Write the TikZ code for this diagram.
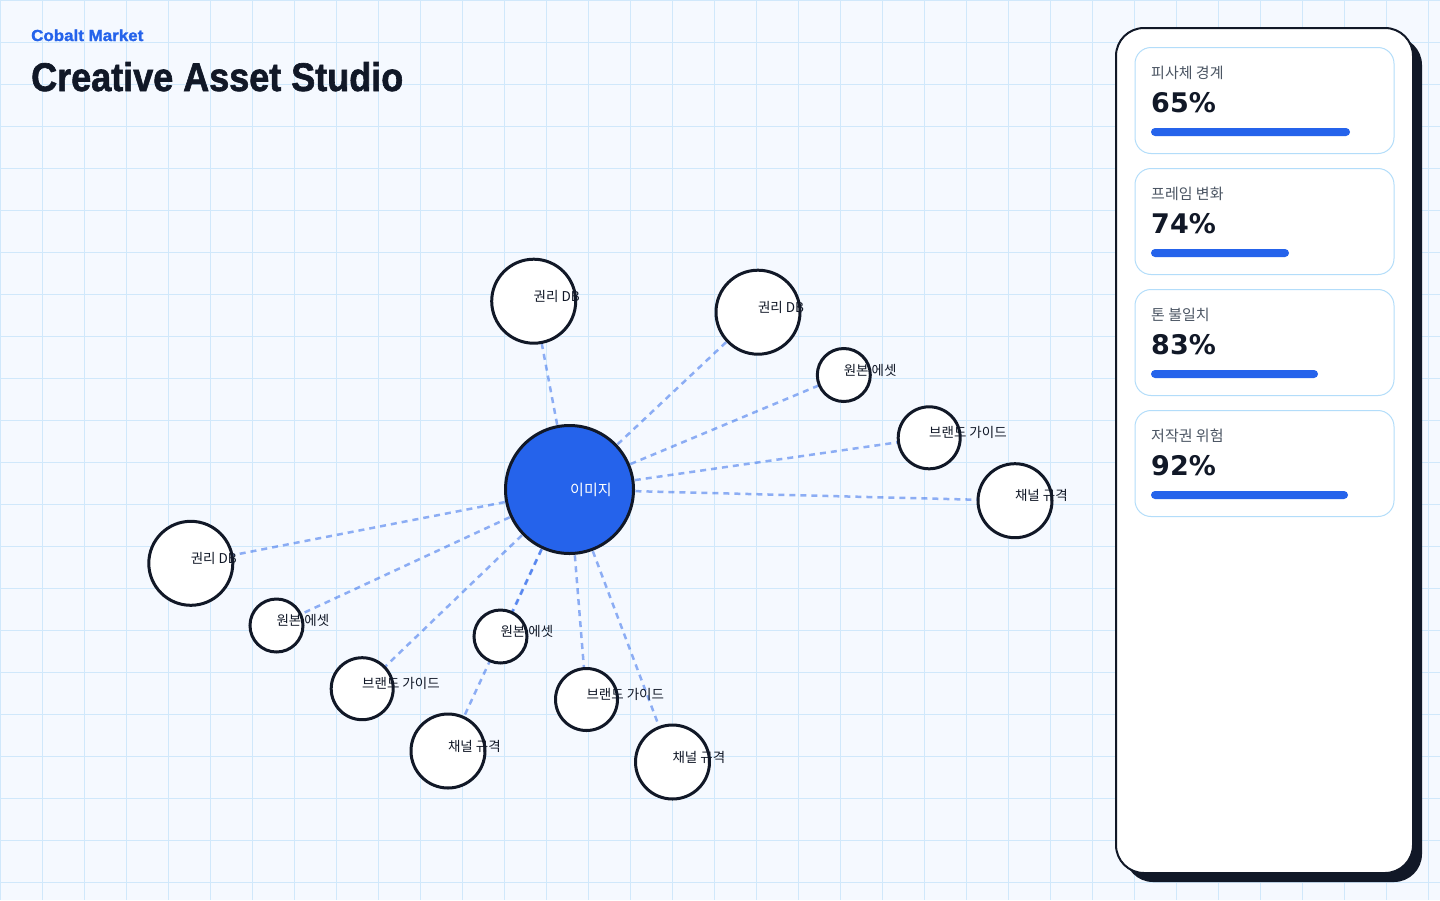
\documentclass[tikz,border=0pt]{standalone}
\usepackage{fontspec}
\usepackage{graphicx}
\setmainfont{Noto Sans CJK KR}
\newfontfamily\titlefont{Liberation Sans}[BoldFeatures={FakeBold=1.6}]
\newfontfamily\numfont{DejaVu Sans}
\definecolor{ink}{HTML}{111827}
\definecolor{brand}{HTML}{2563EB}
\definecolor{bgc}{HTML}{F5F9FF}
\definecolor{gridc}{HTML}{D0E8FB}
\definecolor{cardline}{HTML}{B3DDFA}
\definecolor{muted}{HTML}{4B5563}
\pgfdeclarelayer{bg}
\pgfdeclarelayer{edges}
\pgfsetlayers{bg,edges,main}
\tikzset{
  bub/.style={circle, draw=ink, line width=3, fill=white, inner sep=0pt, outer sep=0pt},
  hub/.style={circle, draw=ink, line width=3, fill=brand, inner sep=0pt, outer sep=0pt},
  lbl/.style={inner sep=0pt, outer sep=0pt, text=ink, font=\fontsize{13.5}{15}\selectfont, anchor=base west},
  link/.style={draw=brand, draw opacity=0.5, line width=2.5, dash pattern=on 6pt off 5pt},
  card/.style={draw=cardline, line width=1, fill=white, rounded corners=16, minimum width=259, minimum height=106, anchor=north west, inner sep=0pt},
  cardlbl/.style={inner sep=0pt, anchor=base west, text=muted, font=\fontsize{15}{18}\selectfont},
  cardnum/.style={inner sep=0pt, anchor=base west, text=ink, font=\numfont\bfseries\fontsize{27}{32}\selectfont},
  bar/.style={fill=brand, rounded corners=4},
}
\newcommand\bubble[5]{%
  \node[bub, minimum size=#4] (#1) at (#2,#3) {};
  \node[lbl] (#1t) at (#2,#3) {#5};
}
\begin{document}
\begin{tikzpicture}[x=1pt,y=-1pt]
\useasboundingbox (0,0) rectangle (1440,900);
\begin{pgfonlayer}{bg}
  \fill[bgc] (0,0) rectangle (1440,900);
  \foreach \i in {0,...,34} \draw[gridc, line width=1] (\i*42,0) -- (\i*42,900);
  \foreach \j in {0,...,21} \draw[gridc, line width=1] (0,\j*42) -- (1440,\j*42);
\end{pgfonlayer}

% titles
\node[inner sep=0pt, anchor=base west, text=brand, font=\titlefont\bfseries\fontsize{16}{19}\selectfont] (brandname) at (31,41) {\scalebox{1.06}[1]{Cobalt Market}};
\node[inner sep=0pt, anchor=base west, text=ink, font=\titlefont\bfseries\fontsize{40}{46}\selectfont] (title) at (31,91) {\scalebox{0.9}[1]{Creative Asset Studio}};

% hub
\node[hub, minimum size=128] (c0) at (569.5,489.5) {};
\node[inner sep=0pt, anchor=base west, text=white, font=\fontsize{15}{18}\selectfont] (c0t) at (570,495.5) {이미지};

% satellites
\bubble{n1}{533.7}{301.2}{84}{권리 DB}
\bubble{n2}{758}{312.2}{84}{권리 DB}
\bubble{n3}{843.8}{375}{53}{원본 에셋}
\bubble{n4}{929.2}{437.8}{62}{브랜드 가이드}
\bubble{n5}{1015}{500.7}{74}{채널 규격}
\bubble{n6}{190.8}{563.3}{84}{권리 DB}
\bubble{n7}{276.5}{625.5}{53}{원본 에셋}
\bubble{n8}{362.2}{688.7}{62}{브랜드 가이드}
\bubble{n9}{500.5}{636.5}{53}{원본 에셋}
\bubble{n10}{448}{751}{74}{채널 규격}
\bubble{n11}{586.5}{699.5}{62}{브랜드 가이드}
\bubble{n12}{672.5}{762}{74}{채널 규격}

\begin{pgfonlayer}{edges}
  \foreach \n in {n1,n2,n3,n4,n5,n6,n7,n8,n9,n10,n11,n12}
    \draw[link] (c0.center) -- (\n.center);
\end{pgfonlayer}

% side panel
\fill[ink, rounded corners=28] (1125,37) rectangle (1422,882);
\node[draw=ink, line width=2, fill=white, rounded corners=28, minimum width=297, minimum height=845, anchor=north west, inner sep=0pt] (panel) at (1115,27) {};

\node[card] (k1) at (1134.5,47) {};
\node[cardlbl] (k1l) at (1151,78) {피사체 경계};
\node[cardnum] (k1n) at (1151,112) {65\%};
\fill[bar] (1151,128) rectangle (1350,136);

\node[card] (k2) at (1134.5,168) {};
\node[cardlbl] (k2l) at (1151,199) {프레임 변화};
\node[cardnum] (k2n) at (1151,233) {74\%};
\fill[bar] (1151,249) rectangle (1289,257);

\node[card] (k3) at (1134.5,289) {};
\node[cardlbl] (k3l) at (1151,320) {톤 불일치};
\node[cardnum] (k3n) at (1151,354) {83\%};
\fill[bar] (1151,370) rectangle (1318,378);

\node[card] (k4) at (1134.5,410) {};
\node[cardlbl] (k4l) at (1151,441) {저작권 위험};
\node[cardnum] (k4n) at (1151,475) {92\%};
\fill[bar] (1151,491) rectangle (1348,499);
\end{tikzpicture}
\end{document}
